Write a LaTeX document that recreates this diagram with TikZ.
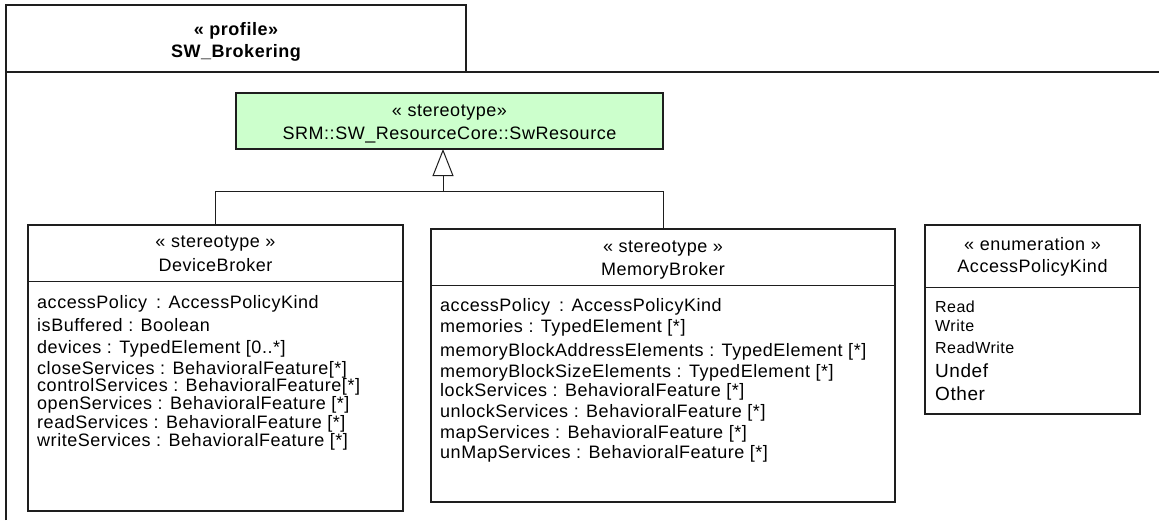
\documentclass[tikz,border=0pt]{standalone}
\usepackage{fontspec}
\setmainfont{Liberation Sans}[LetterSpace=3]
\usetikzlibrary{arrows.meta}
\definecolor{stereogreen}{RGB}{204,255,204}
\definecolor{linegray}{RGB}{30,30,30}
\begin{document}
\begin{tikzpicture}[x=1pt,y=-1pt,
  box/.style={draw=linegray,line width=1.1pt,anchor=north west,inner sep=0pt,outer sep=0pt},
  frameline/.style={draw=linegray,line width=1.1pt},
  sepline/.style={draw=linegray,line width=1pt},
  conn/.style={draw=linegray,line width=1pt},
  ctext/.style={inner sep=0pt,anchor=base,font=\fontsize{18}{20}\selectfont},
  btext/.style={inner sep=0pt,anchor=base,font=\fontsize{18}{20}\selectfont\bfseries},
  attr/.style={inner sep=0pt,anchor=base west,font=\fontsize{18}{20}\selectfont},
  lit/.style={inner sep=0pt,anchor=base west,font=\fontsize{16}{18}\selectfont},
  litbig/.style={inner sep=0pt,anchor=base west,font=\fontsize{19}{21}\selectfont}
]
\useasboundingbox[fill=white] (0,0) rectangle (1159,520);
% profile frame
\draw[frameline] (6,520) -- (6,5) -- (466,5) -- (466,72);
\draw[frameline] (6,72) -- (1159,72);
\node[btext] (ptitle1) at (236,35) {« profile»};
\node[btext] (ptitle2) at (236,57) {SW\_Brokering};
% SwResource
\node[box,fill=stereogreen,minimum width=427pt,minimum height=56pt] (res) at (236,93) {};
\node[ctext] (rest1) at (449.5,116) {« stereotype»};
\node[ctext] (rest2) at (449.5,139) {SRM::SW\_ResourceCore::SwResource};
% DeviceBroker
\node[box,minimum width=375pt,minimum height=286pt] (dev) at (28,225) {};
\draw[sepline] (28,281) -- (403,281);
\node[ctext] (devt1) at (215.5,247) {« stereotype »};
\node[ctext] (devt2) at (215.5,271) {DeviceBroker};
\node[attr] (da1) at (37,308) {accessPolicy\hspace{0.5em}: AccessPolicyKind};
\node[attr] (da2) at (37,331) {isBuffered : Boolean};
\node[attr] (da3) at (37,353) {devices : TypedElement [0..*]};
\node[attr] (da4) at (37,374) {closeServices : BehavioralFeature[*]};
\node[attr] (da5) at (37,391) {controlServices : BehavioralFeature[*]};
\node[attr] (da6) at (37,409) {openServices : BehavioralFeature [*]};
\node[attr] (da7) at (37,428) {readServices : BehavioralFeature [*]};
\node[attr] (da8) at (37,446) {writeServices : BehavioralFeature [*]};
% MemoryBroker
\node[box,minimum width=464pt,minimum height=273pt] (mem) at (431,229) {};
\draw[sepline] (431,285) -- (895,285);
\node[ctext] (memt1) at (663,252) {« stereotype »};
\node[ctext] (memt2) at (663,275) {MemoryBroker};
\node[attr] (ma1) at (440,311) {accessPolicy\hspace{0.5em}: AccessPolicyKind};
\node[attr] (ma2) at (440,332) {memories : TypedElement [*]};
\node[attr] (ma3) at (440,356) {memoryBlockAddressElements : TypedElement [*]};
\node[attr] (ma4) at (440,377) {memoryBlockSizeElements : TypedElement [*]};
\node[attr] (ma5) at (440,396) {lockServices : BehavioralFeature [*]};
\node[attr] (ma6) at (440,417) {unlockServices : BehavioralFeature [*]};
\node[attr] (ma7) at (440,438) {mapServices : BehavioralFeature [*]};
\node[attr] (ma8) at (440,458) {unMapServices : BehavioralFeature [*]};
% AccessPolicyKind
\node[box,minimum width=215pt,minimum height=189pt] (enum) at (925,225) {};
\draw[sepline] (925,287) -- (1140,287);
\node[ctext] (ent1) at (1032.5,250) {« enumeration »};
\node[ctext] (ent2) at (1032.5,272) {AccessPolicyKind};
\node[lit] (el1) at (935,312) {Read};
\node[lit] (el2) at (935,331) {Write};
\node[lit] (el3) at (935,353) {ReadWrite};
\node[litbig] (el4) at (935,377) {Undef};
\node[litbig] (el5) at (935,400) {Other};
% generalization
\coordinate (join) at (443,191);
\draw[conn] (dev.north) |- (join);
\draw[conn] (mem.north) |- (join);
\draw[conn,-{Triangle[open,length=27pt,width=21pt,line width=1pt]}] (join) -- (join |- res.south);
\end{tikzpicture}
\end{document}
